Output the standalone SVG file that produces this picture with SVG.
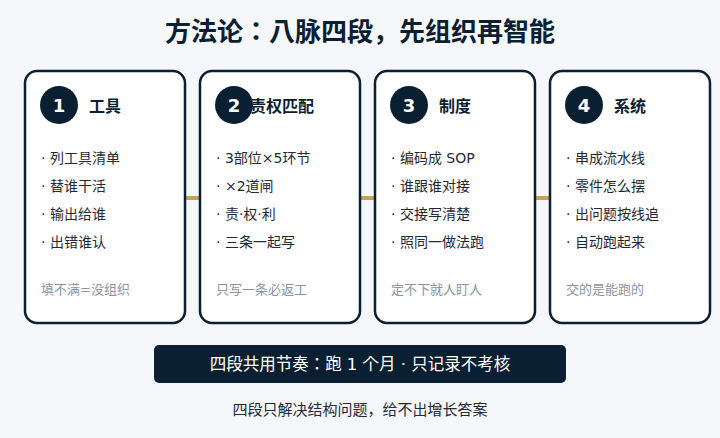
<svg xmlns="http://www.w3.org/2000/svg" width="720" height="438" viewBox="0 0 720 438">
<style>
text{font-family:"DejaVu Sans","Noto Sans CJK JP",sans-serif;}
.card{fill:#ffffff;stroke:#0b1f33;stroke-width:2.5;}
.badge{fill:#0b1f33;}
.num{fill:#ffffff;font-size:18px;font-weight:700;text-anchor:middle;dominant-baseline:central;}
.ttl{fill:#0b1f33;font-size:16px;font-weight:700;text-anchor:middle;dominant-baseline:central;}
.item{fill:#1f2a37;font-size:14px;dominant-baseline:central;}
.foot{fill:#8a94a3;font-size:13px;dominant-baseline:central;}
.conn{stroke:#c6a35b;stroke-width:4;}
</style>
<rect x="0" y="0" width="720" height="438" fill="#f5f7fa"/>
<text x="360" y="32" font-size="26" font-weight="700" fill="#0b1f33" text-anchor="middle" dominant-baseline="central">方法论：八脉四段，先组织再智能</text>
<g id="connectors">
<line class="conn" x1="186" y1="198" x2="200" y2="198"/>
<line class="conn" x1="361" y1="198" x2="375" y2="198"/>
<line class="conn" x1="536" y1="198" x2="550" y2="198"/>
</g>
<g id="node1">
<rect class="card" x="25" y="71" width="160" height="252" rx="12"/>
<text class="ttl" x="105" y="106">工具</text>
<circle class="badge" cx="59" cy="105" r="19"/>
<text class="num" x="59" y="105">1</text>
<text class="item" x="41" y="158">· 列工具清单</text>
<text class="item" x="41" y="186">· 替谁干活</text>
<text class="item" x="41" y="214">· 输出给谁</text>
<text class="item" x="41" y="242">· 出错谁认</text>
<text class="foot" x="41" y="289">填不满=没组织</text>
</g>
<g id="node2">
<rect class="card" x="200" y="71" width="160" height="252" rx="12"/>
<text class="ttl" x="282" y="106">责权匹配</text>
<circle class="badge" cx="234" cy="105" r="19"/>
<text class="num" x="234" y="105">2</text>
<text class="item" x="216" y="158">· 3部位×5环节</text>
<text class="item" x="216" y="186">· ×2道闸</text>
<text class="item" x="216" y="214">· 责·权·利</text>
<text class="item" x="216" y="242">· 三条一起写</text>
<text class="foot" x="216" y="289">只写一条必返工</text>
</g>
<g id="node3">
<rect class="card" x="375" y="71" width="160" height="252" rx="12"/>
<text class="ttl" x="455" y="106">制度</text>
<circle class="badge" cx="409" cy="105" r="19"/>
<text class="num" x="409" y="105">3</text>
<text class="item" x="391" y="158">· 编码成 SOP</text>
<text class="item" x="391" y="186">· 谁跟谁对接</text>
<text class="item" x="391" y="214">· 交接写清楚</text>
<text class="item" x="391" y="242">· 照同一做法跑</text>
<text class="foot" x="391" y="289">定不下就人盯人</text>
</g>
<g id="node4">
<rect class="card" x="550" y="71" width="160" height="252" rx="12"/>
<text class="ttl" x="630" y="106">系统</text>
<circle class="badge" cx="584" cy="105" r="19"/>
<text class="num" x="584" y="105">4</text>
<text class="item" x="566" y="158">· 串成流水线</text>
<text class="item" x="566" y="186">· 零件怎么摆</text>
<text class="item" x="566" y="214">· 出问题按线追</text>
<text class="item" x="566" y="242">· 自动跑起来</text>
<text class="foot" x="566" y="289">交的是能跑的</text>
</g>
<g id="rhythm">
<rect x="154" y="345" width="412" height="38" rx="5" fill="#0b1f33"/>
<text x="360" y="364" font-size="16.5" fill="#ffffff" text-anchor="middle" dominant-baseline="central">四段共用节奏：跑 1 个月 · 只记录不考核</text>
</g>
<text x="360" y="410" font-size="15" fill="#1f2a37" text-anchor="middle" dominant-baseline="central">四段只解决结构问题，给不出增长答案</text>
</svg>
